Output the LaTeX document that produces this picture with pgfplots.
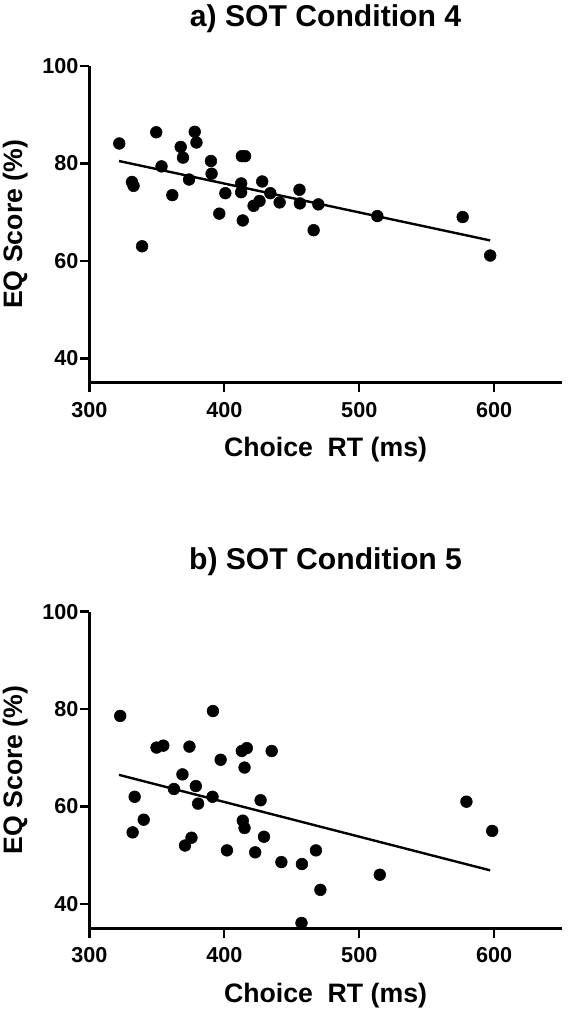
\documentclass[border=0pt]{standalone}
\usepackage{fontspec}
\setmainfont{Liberation Sans}
\usepackage{pgfplots}
\pgfplotsset{compat=1.18}

\pgfplotstableread{
x y
322.2 84.1
349.6 86.4
378.1 86.5
379.4 84.3
367.7 83.4
369.4 81.2
353.5 79.4
390.1 80.5
413.0 81.5
415.4 81.5
331.6 76.2
332.8 75.4
373.9 76.7
390.6 77.9
361.5 73.5
339.1 63.0
400.8 73.9
412.5 75.9
412.5 74.1
396.3 69.7
413.7 68.3
428.1 76.3
434.1 73.9
426.1 72.3
421.7 71.3
441.0 72.0
455.7 74.6
456.0 71.8
469.7 71.6
466.2 66.3
513.4 69.2
576.6 69.0
597.0 61.1
}\dataA

\pgfplotstableread{
x y
322.9 78.6
391.6 79.6
349.8 72.1
354.8 72.5
374.2 72.3
413.0 71.4
416.7 72.0
435.1 71.4
397.3 69.6
415.0 68.0
369.0 66.6
362.7 63.6
378.9 64.2
333.6 62.0
391.3 62.0
380.6 60.6
426.9 61.3
340.3 57.3
332.1 54.7
413.7 57.1
415.0 55.6
429.4 53.8
375.7 53.6
370.9 52.0
402.0 51.0
422.9 50.6
442.3 48.6
457.5 48.2
467.9 51.0
471.2 42.9
457.2 36.1
515.2 46.0
579.4 61.0
598.5 55.0
}\dataB

\pgfplotsset{
  sotstyle/.style={
    width=354.3pt, height=237.5pt, scale only axis,
    xmin=300, xmax=650, ymin=35, ymax=100,
    xtick={300,400,500,600}, ytick={40,60,80,100},
    axis x line*=bottom, axis y line*=left,
    axis line style={line width=1.8pt, -},
    every tick/.style={line width=1.8pt, black},
    tick align=outside, major tick length=7pt,
    /pgf/number format/assume math mode=true,
    ticklabel style={font=\fontsize{16.2}{18}\selectfont\bfseries},
    xticklabel style={inner sep=0pt, yshift=-7.3pt},
    yticklabel style={inner sep=0pt, xshift=-1pt},
    xlabel={Choice\ \ RT (ms)}, ylabel={EQ Score (\%)},
    xlabel style={font=\fontsize{20}{22}\selectfont\bfseries, at={(axis description cs:0.5,-0.234)}, anchor=base},
    ylabel style={font=\fontsize{20}{22}\selectfont\bfseries, at={(axis description cs:-0.157,0.5)}, anchor=center},
    clip=false,
  }
}

\begin{document}
\begin{tikzpicture}
\useasboundingbox (-66.975pt,-471.2pt) rectangle (360.5pt,287pt);
\begin{axis}[sotstyle, at={(0,0)}, anchor=south west]
\addplot[only marks, mark=*, mark size=4.4pt, black] table[x=x,y=y] {\dataA};
\addplot[black, line width=1.8pt, no marks] coordinates {(322,80.5) (597,64.2)};
\node[font=\fontsize{22.6}{24}\selectfont\bfseries, anchor=base, inner sep=0pt] at (rel axis cs:0.5,1.126) {a) SOT Condition 4};
\end{axis}
\begin{axis}[sotstyle, at={(0,-409.2pt)}, anchor=south west]
\addplot[only marks, mark=*, mark size=4.4pt, black] table[x=x,y=y] {\dataB};
\addplot[black, line width=1.8pt, no marks] coordinates {(322,66.5) (597,46.9)};
\node[font=\fontsize{22.6}{24}\selectfont\bfseries, anchor=base, inner sep=0pt] at (rel axis cs:0.5,1.134) {b) SOT Condition 5};
\end{axis}
\end{tikzpicture}
\end{document}
